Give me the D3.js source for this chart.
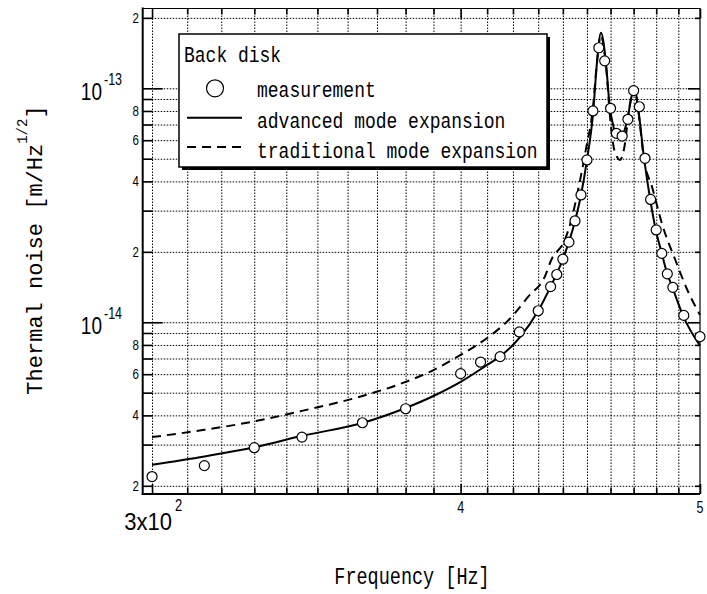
<!DOCTYPE html>
<html>
<head>
<meta charset="utf-8">
<script src="https://cdn.jsdelivr.net/npm/d3@7"></script>
<style>
body { margin: 0; background: #fff; }
</style>
</head>
<body>
<script>
const width = 707;
const height = 594;
const plotLeft = 142.7, plotRight = 700, plotTop = 8.5, plotBottom = 494;

// noise values are in units of 1e-15 m/Hz^1/2
const unit = 1e-15;

const measFreq = [300, 315, 330, 345, 365, 380, 400, 407.5, 415, 422.5, 430, 435, 437.5, 440, 442.5, 445, 447.5, 450,
    452.5, 455, 457.5, 460, 462.5, 465, 467.5, 470, 472.5, 475, 477.5, 480, 482.5, 485, 487.5, 492.5, 500];
const measNoise = [2.19, 2.44, 2.91, 3.23, 3.72, 4.27, 6.03, 6.75, 7.13, 9.09, 11.2, 14.2, 16.0, 18.6, 22.0, 27.1, 35.0, 49.4,
    80.0, 149, 131, 82.1, 64.2, 62.5, 73.7, 97.7, 83.4, 50.2, 33.5, 24.8, 19.7, 16.1, 14.1, 10.7, 8.68];

const advFreq = [300, 315, 330, 345, 365, 380, 390, 400, 410, 415, 420, 422.5, 430, 435, 440, 445, 447.5, 450, 452.5, 454.3,
    455.9, 458, 459.7, 460.8, 462, 463.5, 464.8, 466.1, 467.4, 468.8, 470.3, 471.8, 474.6, 477.3, 479.8, 482.5, 484.7,
    487.3, 492.3, 500];
const advNoise = [2.46, 2.67, 2.92, 3.27, 3.71, 4.30, 4.84, 5.56, 6.57, 7.15, 8.00, 8.57, 11.2, 14.2, 18.6, 27.1, 35.0, 49.4, 76.9, 132,
    172.8, 129.5, 82.4, 71.8, 64.4, 61.9, 62.1, 66.4, 74.7, 89.1, 101.6, 84.8, 50.2, 33.6, 24.8, 19.7, 16.4,
    14.1, 10.6, 7.94];

const tradFreq = [300, 315, 330, 345, 365, 380, 390, 400, 410, 418.6, 426.1, 432.7, 435.3, 440.8, 443.5, 446.3, 449.5, 452.5,
    454.3, 455.8, 458, 459.9, 461.3, 462.8, 464, 466, 468, 470.3, 471.9, 474.6, 478.1, 483, 488.6, 494.2, 500];
const tradNoise = [3.23, 3.47, 3.77, 4.18, 4.84, 5.56, 6.25, 7.25, 8.57, 10.3, 12.9, 15.7, 18.5, 22.5, 27.4, 36.8, 54.5, 82.4,
    132, 168, 125.8, 73.2, 56.3, 50.9, 49.4, 56.3, 80.8, 101, 82.4, 49.4, 38.0, 25.6, 18.5, 13.7, 10.75];

const legendTitle = 'Back disk';
const seriesNames = ['measurement', 'advanced mode expansion', 'traditional mode expansion'];

// ticks
const xTicks = d3.range(300, 501, 10);
const xMajor = [300, 400, 500];
const yTicks = [2e-15, 3e-15, 4e-15, 5e-15, 6e-15, 7e-15, 8e-15, 9e-15, 1e-14,
    2e-14, 3e-14, 4e-14, 5e-14, 6e-14, 7e-14, 8e-14, 9e-14, 1e-13, 2e-13];
const yMajor = [1e-14, 1e-13];
const yMinorLabels = [2e-15, 4e-15, 6e-15, 8e-15, 2e-14, 4e-14, 6e-14, 8e-14, 2e-13];
const yMinorText = ['2', '4', '6', '8', '2', '4', '6', '8', '2'];
const yMajorExp = ['-14', '-13'];

const svg = d3.select('body')
    .append('svg')
    .attr('width', width)
    .attr('height', height);

const x = d3.scaleLog().domain([297.4, 500]).range([plotLeft, plotRight]);
const y = d3.scaleLog().domain([1.845e-15, 2.193e-13]).range([plotBottom, plotTop]);

// dotted grid
const gridStyle = g => {
    g.select('.domain').remove();
    g.selectAll('line')
        .attr('stroke', '#000')
        .attr('stroke-width', 1)
        .attr('stroke-dasharray', '1.5,1.5');
};
svg.append('g')
    .attr('transform', `translate(0,${plotBottom})`)
    .call(d3.axisBottom(x).tickValues(xTicks.filter(d => d < 500)).tickSize(-(plotBottom - plotTop)).tickFormat(''))
    .call(gridStyle);
svg.append('g')
    .attr('transform', `translate(${plotLeft},0)`)
    .call(d3.axisLeft(y).tickValues(yTicks).tickSize(-(plotRight - plotLeft)).tickFormat(''))
    .call(gridStyle);

// inward ticks on all four sides
const tickStyle = g => {
    g.select('.domain').remove();
    g.selectAll('line').attr('stroke', '#000').attr('stroke-width', 1.6);
};
const isMajorX = d => xMajor.includes(d);
const isMajorY = d => yMajor.includes(d);

[[d3.axisBottom, plotBottom], [d3.axisTop, plotTop]].forEach(([axis, pos]) => {
    svg.append('g').attr('transform', `translate(0,${pos})`)
        .call(axis(x).tickValues(xTicks.filter(d => !isMajorX(d))).tickSize(-6).tickFormat(''))
        .call(tickStyle);
    svg.append('g').attr('transform', `translate(0,${pos})`)
        .call(axis(x).tickValues(xMajor).tickSize(-10).tickFormat(''))
        .call(tickStyle);
});
svg.append('g').attr('transform', `translate(${plotLeft},0)`)
    .call(d3.axisLeft(y).tickValues(yTicks.filter(d => !isMajorY(d))).tickSize(-10).tickFormat(''))
    .call(tickStyle);
svg.append('g').attr('transform', `translate(${plotLeft},0)`)
    .call(d3.axisLeft(y).tickValues(yMajor).tickSize(-20).tickFormat(''))
    .call(tickStyle);
svg.append('g').attr('transform', `translate(${plotRight},0)`)
    .call(d3.axisRight(y).tickValues(yTicks.filter(d => !isMajorY(d))).tickSize(-5).tickFormat(''))
    .call(tickStyle);
svg.append('g').attr('transform', `translate(${plotRight},0)`)
    .call(d3.axisRight(y).tickValues(yMajor).tickSize(-12).tickFormat(''))
    .call(tickStyle);

// frame
svg.append('line').attr('x1', plotLeft).attr('x2', plotRight).attr('y1', plotTop).attr('y2', plotTop)
    .attr('stroke', '#000').attr('stroke-width', 1.2);
svg.append('line').attr('x1', plotRight).attr('x2', plotRight).attr('y1', plotTop).attr('y2', plotBottom)
    .attr('stroke', '#000').attr('stroke-width', 1.2);
svg.append('line').attr('x1', plotLeft).attr('x2', plotLeft).attr('y1', plotTop - 1).attr('y2', plotBottom + 1)
    .attr('stroke', '#000').attr('stroke-width', 2);
svg.append('line').attr('x1', plotLeft - 1).attr('x2', plotRight).attr('y1', plotBottom).attr('y2', plotBottom)
    .attr('stroke', '#000').attr('stroke-width', 2);

// text is stretched a bit vertically like the original
const sans = '"Liberation Sans", Arial, sans-serif';
const mono = '"Liberation Mono", "Courier New", monospace';

const addText = (px, py, size, family, anchor, stretch = 1.25) => svg.append('text')
    .attr('transform', `translate(${px},${py}) scale(1,${stretch})`)
    .attr('font-family', family)
    .attr('font-size', size)
    .attr('text-anchor', anchor)
    .attr('fill', '#000');

// tick labels
yMinorLabels.forEach((v, i) => {
    addText(139, y(v) + 5, 11.5, sans, 'end').text(yMinorText[i]);
});
yMajor.forEach((v, i) => {
    addText(102, y(v) + 12, 19, sans, 'end').text('10');
    addText(104, y(v) - 3, 12.5, sans, 'start').text(yMajorExp[i]);
});

addText(172, 530, 22, sans, 'end', 1.05).text('3x10');
addText(175, 511, 13, sans, 'start').text('2');
addText(x(400), 513, 12.5, sans, 'middle').text('4');
addText(x(500), 513, 12.5, sans, 'middle').text('5');

// axis titles
addText(412, 584, 18.5, mono, 'middle').text('Frequency [Hz]');

const yTitle = svg.append('text')
    .attr('transform', 'translate(42,250) rotate(-90)')
    .attr('font-family', mono)
    .attr('font-size', 22)
    .attr('text-anchor', 'middle');
yTitle.append('tspan').text('Thermal noise [m/Hz');
yTitle.append('tspan').attr('dy', -15).attr('font-size', 14).text('1/2');
yTitle.append('tspan').attr('dy', 15).text(']');

// curves
const line = d3.line()
    .x(d => x(d[0]))
    .y(d => y(d[1] * unit))
    .curve(d3.curveMonotoneX);

svg.append('path')
    .datum(d3.zip(tradFreq, tradNoise))
    .attr('d', line)
    .attr('fill', 'none')
    .attr('stroke', '#000')
    .attr('stroke-width', 2)
    .attr('stroke-dasharray', '9,6');

svg.append('path')
    .datum(d3.zip(advFreq, advNoise))
    .attr('d', line)
    .attr('fill', 'none')
    .attr('stroke', '#000')
    .attr('stroke-width', 2);

svg.append('g')
    .selectAll('circle')
    .data(d3.zip(measFreq, measNoise))
    .enter()
    .append('circle')
    .attr('cx', d => x(d[0]))
    .attr('cy', d => y(d[1] * unit))
    .attr('r', 5)
    .attr('fill', '#fff')
    .attr('stroke', '#000')
    .attr('stroke-width', 1.2);

// legend with drop shadow
const lg = svg.append('g').attr('transform', 'translate(179,34)');
lg.append('rect').attr('x', 3).attr('y', 3).attr('width', 368).attr('height', 133).attr('fill', '#000');
lg.append('rect').attr('width', 368).attr('height', 133)
    .attr('fill', '#fff').attr('stroke', '#000').attr('stroke-width', 1.5);

addText(184, 62, 18, mono, 'start').text(legendTitle);
const rowY = [88.3, 117.7, 147];
lg.append('circle').attr('cx', 36).attr('cy', rowY[0] - 34).attr('r', 8.5)
    .attr('fill', '#fff').attr('stroke', '#000').attr('stroke-width', 1.2);
lg.append('line').attr('x1', 8).attr('x2', 63).attr('y1', rowY[1] - 34).attr('y2', rowY[1] - 34)
    .attr('stroke', '#000').attr('stroke-width', 2);
lg.append('line').attr('x1', 8).attr('x2', 63).attr('y1', rowY[2] - 34).attr('y2', rowY[2] - 34)
    .attr('stroke', '#000').attr('stroke-width', 2).attr('stroke-dasharray', '9,6');
const textY = [97, 127.5, 157.5];
seriesNames.forEach((name, i) => {
    addText(257, textY[i], 18, mono, 'start').text(name);
});
</script>
</body>
</html>
